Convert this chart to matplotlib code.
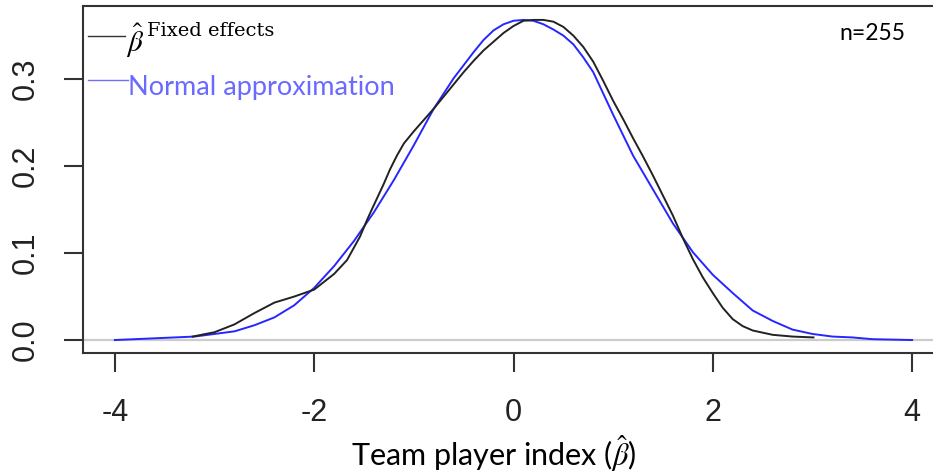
import matplotlib
matplotlib.use("Agg")
import matplotlib.pyplot as plt

# kernel density of the fixed-effect estimates
fe_x = [-3.22, -3.0, -2.8, -2.6, -2.4, -2.2, -2.0, -1.8, -1.67, -1.54, -1.47,
        -1.41, -1.3, -1.24, -1.17, -1.1, -1.0, -0.9, -0.8, -0.7, -0.6, -0.5,
        -0.4, -0.3, -0.2, -0.1, 0.0, 0.1, 0.2, 0.3, 0.4, 0.5, 0.6, 0.7, 0.8,
        0.9, 1.0, 1.1, 1.2, 1.3, 1.4, 1.5, 1.6, 1.7, 1.8, 1.9, 2.0, 2.1, 2.2,
        2.3, 2.4, 2.6, 2.8, 3.01]
fe_y = [0.004, 0.009, 0.018, 0.031, 0.043, 0.050, 0.058, 0.076, 0.092, 0.119,
        0.138, 0.153, 0.180, 0.196, 0.212, 0.226, 0.240, 0.253, 0.266, 0.280,
        0.294, 0.308, 0.321, 0.333, 0.343, 0.353, 0.361, 0.367, 0.368, 0.368,
        0.366, 0.360, 0.350, 0.337, 0.320, 0.298, 0.275, 0.254, 0.232, 0.211,
        0.189, 0.166, 0.143, 0.117, 0.093, 0.072, 0.054, 0.037, 0.024, 0.016,
        0.011, 0.006, 0.004, 0.003]

# normal approximation
na_x = [-4.0, -3.6, -3.4, -3.2, -3.0, -2.8, -2.6, -2.4, -2.2, -2.0, -1.8,
        -1.6, -1.4, -1.2, -1.0, -0.8, -0.6, -0.4, -0.3, -0.2, -0.1, 0.0, 0.1,
        0.2, 0.3, 0.4, 0.5, 0.6, 0.7, 0.8, 1.0, 1.2, 1.4, 1.6, 1.8, 2.0, 2.2,
        2.4, 2.6, 2.8, 3.0, 3.2, 3.4, 3.6, 3.8, 4.0]
na_y = [0.0, 0.002, 0.003, 0.004, 0.007, 0.010, 0.017, 0.026, 0.040, 0.060,
        0.085, 0.114, 0.147, 0.184, 0.224, 0.266, 0.301, 0.331, 0.345, 0.356,
        0.363, 0.367, 0.368, 0.367, 0.363, 0.357, 0.350, 0.340, 0.325, 0.308,
        0.259, 0.212, 0.173, 0.134, 0.101, 0.075, 0.054, 0.034, 0.022, 0.012,
        0.007, 0.004, 0.003, 0.001, 0.0005, 0.0]

xticks = [-4, -2, 0, 2, 4]
yticks = [0.0, 0.1, 0.2, 0.3]
n_obs = 255

plt.rcParams['mathtext.fontset'] = 'stix'

fig = plt.figure(figsize=(9.33, 4.76), dpi=100)
ax = fig.add_axes([83 / 933, 1 - 353 / 476, 861 / 933, 347 / 476])

ax.axhline(0, color='#cccccc', lw=1.6, zorder=1)
ax.plot(fe_x, fe_y, color='#222222', lw=1.4, zorder=3)
ax.plot(na_x, na_y, color='#2626ff', lw=1.4, zorder=2)

ax.set_xlim(-4.32, 4.32)
ax.set_ylim(-0.0149, 0.384)

for s in ax.spines.values():
    s.set_color('#333333')
    s.set_linewidth(1.5)

ax.set_xticks(xticks)
ax.set_xticklabels([str(t) for t in xticks])
ax.set_yticks(yticks)
ax.set_yticklabels([f"{t:.1f}" for t in yticks], rotation=90, va='center')
ax.tick_params(axis='both', length=13.5, width=1.5, color='#333333',
               labelsize=22, labelcolor='#222222')
ax.tick_params(axis='x', pad=19)
ax.tick_params(axis='y', pad=17)
for lab in ax.get_xticklabels() + ax.get_yticklabels():
    lab.set_fontfamily('Liberation Sans')

# hand-placed legend
fig.lines.append(plt.Line2D([88 / 933, 125 / 933], [1 - 36 / 476] * 2,
                            color='#333333', lw=1.0, transform=fig.transFigure))
fig.text(126 / 933, 1 - 41 / 476, r'$\hat{\beta}$', fontsize=21,
         color='black', va='center', ha='left')
fig.text(147 / 933, 1 - 31 / 476, 'Fixed effects', fontsize=14,
         family='DejaVu Serif', color='black', va='center', ha='left')
fig.lines.append(plt.Line2D([88 / 933, 128 / 933], [1 - 80 / 476] * 2,
                            color='#7070ff', lw=1.0, transform=fig.transFigure))
fig.text(128 / 933, 1 - 88 / 476, 'Normal approximation', fontsize=19.5,
         family='Lato', color='#6a6aff', va='center', ha='left')

fig.text(905 / 933, 1 - 33 / 476, f'n={n_obs}', fontsize=16.5, family='Lato',
         color='black', va='center', ha='right')

fig.text(494 / 933, 1 - 454 / 476, r'Team player index ($\hat{\beta}$)',
         fontsize=22, family='Lato', color='black', va='center', ha='center')

fig.savefig('out.png', dpi=100)
